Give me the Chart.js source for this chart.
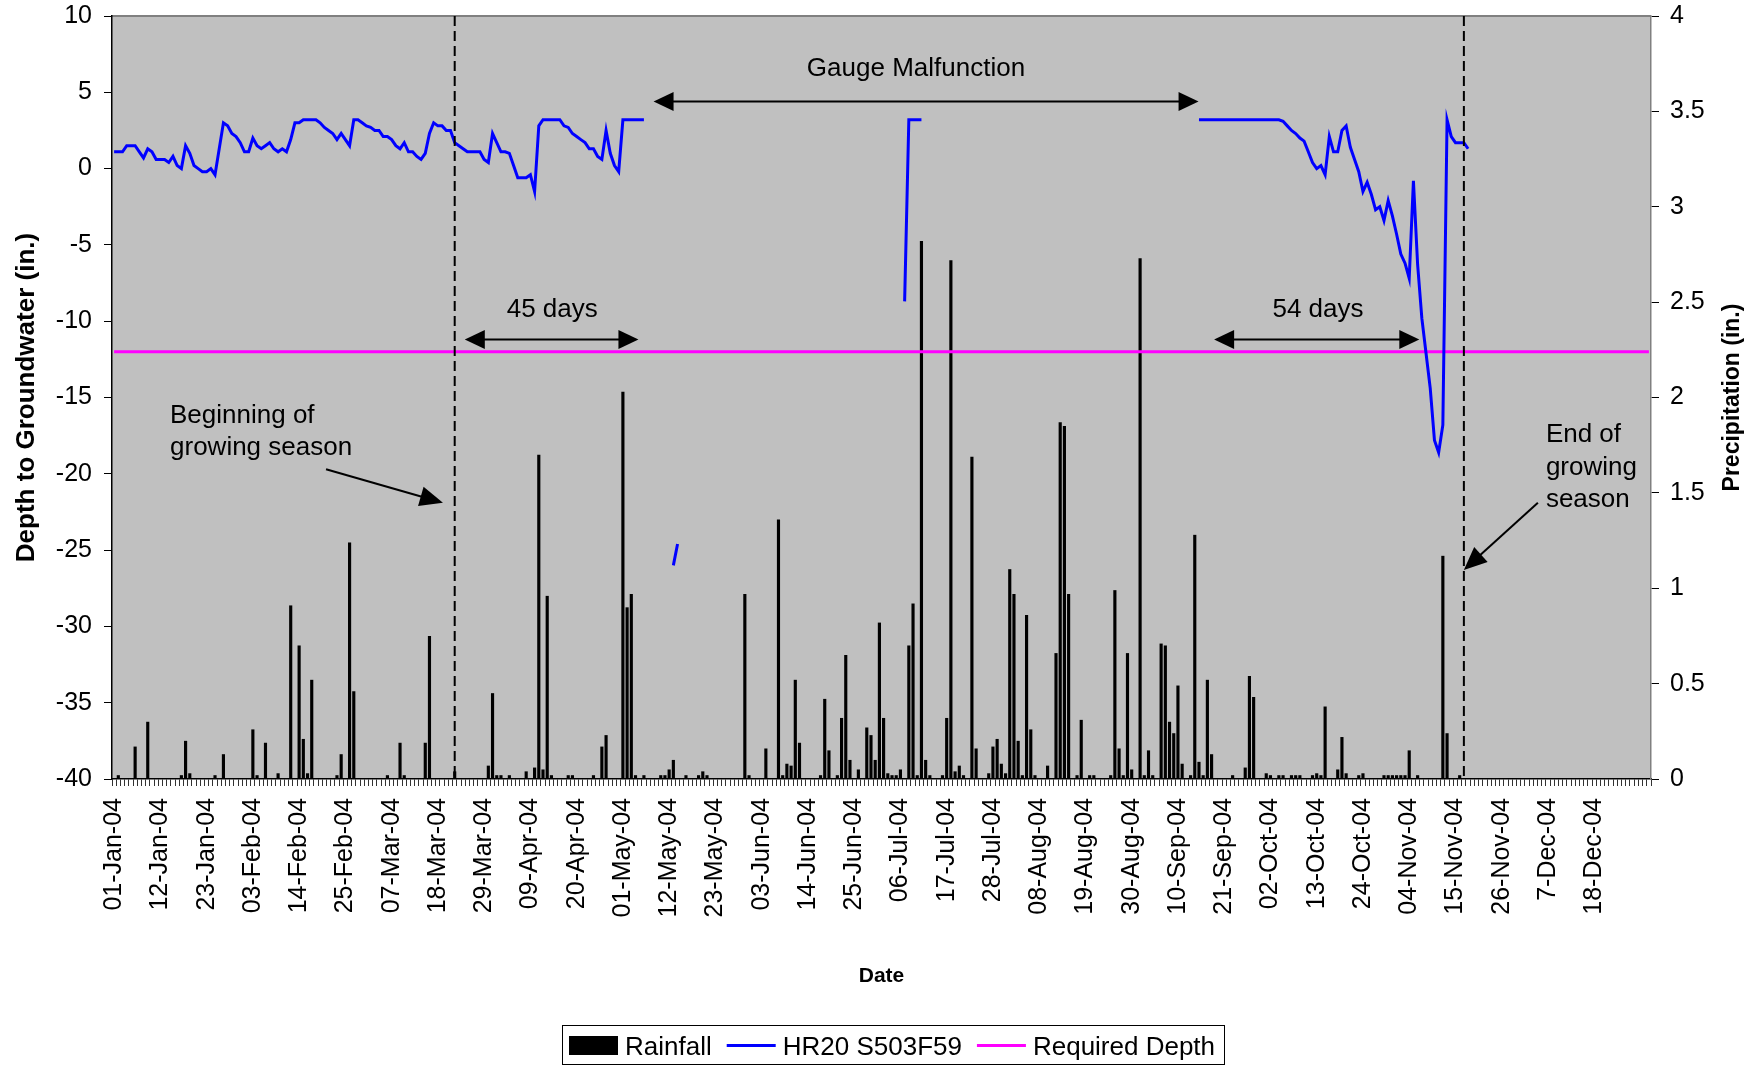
<!DOCTYPE html>
<html>
<head>
<meta charset="utf-8">
<script src="https://cdn.jsdelivr.net/npm/chart.js@4.4.1/dist/chart.umd.min.js"></script>
<style>
  html, body { margin: 0; padding: 0; background: #fff; }
  #wrap { width: 1763px; height: 1065px; }
</style>
</head>
<body>
<div id="wrap"><canvas id="groundwaterChart"></canvas></div>
<script>
// 2004 calendar (leap year)
const monthNames = ["Jan", "Feb", "Mar", "Apr", "May", "Jun", "Jul", "Aug", "Sep", "Oct", "Nov", "Dec"];
const monthDays = [31, 29, 31, 30, 31, 30, 31, 31, 30, 31, 30, 31];

// x axis labels, one every 11 days
const tickLabels = [
  "01-Jan-04", "12-Jan-04", "23-Jan-04", "03-Feb-04", "14-Feb-04", "25-Feb-04", "07-Mar-04",
  "18-Mar-04", "29-Mar-04", "09-Apr-04", "20-Apr-04", "01-May-04", "12-May-04", "23-May-04",
  "03-Jun-04", "14-Jun-04", "25-Jun-04", "06-Jul-04", "17-Jul-04", "28-Jul-04", "08-Aug-04",
  "19-Aug-04", "30-Aug-04", "10-Sep-04", "21-Sep-04", "02-Oct-04", "13-Oct-04", "24-Oct-04",
  "04-Nov-04", "15-Nov-04", "26-Nov-04", "7-Dec-04", "18-Dec-04"
];
const TICK_STEP = 11;

// daily rainfall (in.)
const rainJan = [0, 0.02, 0, 0, 0, 0.17, 0, 0, 0.30, 0, 0, 0, 0, 0, 0, 0, 0.02, 0.20, 0.03, 0,
  0, 0, 0, 0, 0.02, 0, 0.13, 0, 0, 0, 0];
const rainFeb = [0, 0, 0.26, 0.02, 0, 0.19, 0, 0, 0.03, 0, 0, 0.91, 0, 0.70, 0.21, 0.03, 0.52, 0, 0, 0,
  0, 0, 0.02, 0.13, 0, 1.24, 0.46, 0, 0];
const rainMar = [0, 0, 0, 0, 0, 0.02, 0, 0, 0.19, 0.02, 0, 0, 0, 0, 0.19, 0.75, 0, 0, 0, 0,
  0, 0.04, 0, 0, 0, 0, 0, 0, 0, 0.07, 0.45];
const rainApr = [0.02, 0.02, 0, 0.02, 0, 0, 0, 0.04, 0, 0.06, 1.70, 0.05, 0.96, 0.02, 0, 0, 0, 0.02, 0.02, 0,
  0, 0, 0, 0.02, 0, 0.17, 0.23, 0, 0, 0];
const rainMay = [2.03, 0.90, 0.97, 0.02, 0, 0.02, 0, 0, 0, 0.02, 0.02, 0.05, 0.10, 0, 0, 0.02, 0, 0, 0.02, 0.04,
  0.02, 0, 0, 0, 0, 0, 0, 0, 0, 0.97, 0.02];
const rainJun = [0, 0, 0, 0.16, 0, 0, 1.36, 0.02, 0.08, 0.07, 0.52, 0.19, 0, 0, 0, 0, 0.02, 0.42, 0.15, 0,
  0.02, 0.32, 0.65, 0.10, 0, 0.05, 0, 0.27, 0.23, 0.10];
const rainJul = [0.82, 0.32, 0.03, 0.02, 0.02, 0.05, 0, 0.70, 0.92, 0.02, 2.82, 0.10, 0.02, 0, 0, 0.02, 0.32, 2.72, 0.04, 0.07,
  0.02, 0, 1.69, 0.16, 0, 0, 0.03, 0.17, 0.21, 0.08, 0.03];
const rainAug = [1.10, 0.97, 0.20, 0.02, 0.86, 0.26, 0.02, 0, 0, 0.07, 0, 0.66, 1.87, 1.85, 0.97, 0, 0.02, 0.31, 0, 0.02,
  0.02, 0, 0, 0, 0.02, 0.99, 0.16, 0.02, 0.66, 0.05, 0];
const rainSep = [2.73, 0.02, 0.15, 0.02, 0, 0.71, 0.70, 0.30, 0.24, 0.49, 0.08, 0, 0.02, 1.28, 0.09, 0.02, 0.52, 0.13, 0, 0,
  0, 0, 0.02, 0, 0, 0.06, 0.54, 0.43, 0, 0];
const rainOct = [0.03, 0.02, 0, 0.02, 0.02, 0, 0.02, 0.02, 0.02, 0, 0, 0.02, 0.03, 0.02, 0.38, 0, 0, 0.05, 0.22, 0.03,
  0, 0, 0.02, 0.03, 0, 0, 0, 0, 0.02, 0.02, 0.02];
const rainNov = [0.02, 0.02, 0.02, 0.15, 0, 0.02, 0, 0, 0, 0, 0, 1.17, 0.24, 0, 0, 0.02, 0, 0, 0, 0,
  0, 0, 0, 0, 0, 0, 0, 0, 0, 0];
const rainDec = [0, 0, 0, 0, 0, 0, 0, 0, 0, 0, 0, 0, 0, 0, 0, 0, 0, 0, 0, 0,
  0, 0, 0, 0, 0, 0, 0, 0, 0, 0, 0];

// daily depth to groundwater, gauge HR20 S503F59 (in.), null = no reading
const depthJan = [1.1, 1.1, 1.1, 1.5, 1.5, 1.5, 1.1, 0.7, 1.3, 1.1, 0.6, 0.6, 0.6, 0.4, 0.8, 0.2, 0.0, 1.5, 1.0, 0.2,
  0.0, -0.2, -0.2, 0.0, -0.4, 1.3, 3.0, 2.8, 2.3, 2.1, 1.7];
const depthFeb = [1.1, 1.1, 2.0, 1.5, 1.3, 1.5, 1.7, 1.3, 1.1, 1.3, 1.1, 1.9, 3.0, 3.0, 3.2, 3.2, 3.2, 3.2, 3.0, 2.7,
  2.5, 2.3, 1.9, 2.3, 1.9, 1.5, 3.2, 3.2, 3.0];
const depthMar = [2.8, 2.7, 2.5, 2.5, 2.1, 2.1, 1.9, 1.5, 1.3, 1.7, 1.1, 1.1, 0.8, 0.6, 1.0, 2.3, 3.0, 2.8, 2.8, 2.5,
  2.5, 1.7, 1.5, 1.3, 1.1, 1.1, 1.1, 1.1, 0.6, 0.4, 2.3];
const depthApr = [1.7, 1.1, 1.1, 1.0, 0.2, -0.6, -0.6, -0.6, -0.4, -1.5, 2.8, 3.2, 3.2, 3.2, 3.2, 3.2, 2.8, 2.7, 2.3, 2.1,
  1.9, 1.7, 1.3, 1.3, 0.8, 0.6, 2.5, 1.0, 0.2, -0.2];
const depthMay = [3.2, 3.2, 3.2, 3.2, 3.2, 3.2, null, null, null, null, null, null, -26.0, -24.6, null, null, null, null, null, null,
  null, null, null, null, null, null, null, null, null, null, null];
const depthJun = [null, null, null, null, null, null, null, null, null, null, null, null, null, null, null,
  null, null, null, null, null, null, null, null, null, null, null, null, null, null, null];
const depthJul = [null, null, null, null, null, null, -8.7, 3.2, 3.2, 3.2, 3.2, null, null, null, null, null, null, null, null, null,
  null, null, null, null, null, null, null, null, null, null, null];
const depthAug = [null, null, null, null, null, null, null, null, null, null, null, null, null, null, null, null,
  null, null, null, null, null, null, null, null, null, null, null, null, null, null, null];
const depthSep = [null, null, null, null, null, null, null, null, null, null, null, null, null, null,
  3.2, 3.2, 3.2, 3.2, 3.2, 3.2, 3.2, 3.2, 3.2, 3.2, 3.2, 3.2, 3.2, 3.2, 3.2, 3.2];
const depthOct = [3.2, 3.2, 3.2, 3.2, 3.1, 2.8, 2.5, 2.3, 2.0, 1.8, 1.1, 0.4, 0.0, 0.2, -0.4, 2.1, 1.1, 1.1, 2.5, 2.8,
  1.4, 0.6, -0.2, -1.5, -0.9, -1.7, -2.7, -2.5, -3.4, -2.1, -3.1];
const depthNov = [-4.3, -5.6, -6.2, -7.2, -0.8, -6.3, -9.8, -12.1, -14.4, -17.8, -18.6, -16.8, 3.2, 2.1, 1.7, 1.7, 1.7, 1.3,
  null, null, null, null, null, null, null, null, null, null, null, null];
const depthDec = [null, null, null, null, null, null, null, null, null, null, null, null, null, null, null, null,
  null, null, null, null, null, null, null, null, null, null, null, null, null, null, null];

const REQUIRED_DEPTH = -12;

// growing season (day index in the year)
const seasonStart = 81;   // 22-Mar
const seasonEnd = 321;    // 17-Nov

const days = [];
monthNames.forEach((m, i) => {
  for (let d = 1; d <= monthDays[i]; d++) days.push(String(d).padStart(2, "0") + "-" + m + "-04");
});

const rainfall = [].concat(rainJan, rainFeb, rainMar, rainApr, rainMay, rainJun,
  rainJul, rainAug, rainSep, rainOct, rainNov, rainDec);
const depth = [].concat(depthJan, depthFeb, depthMar, depthApr, depthMay, depthJun,
  depthJul, depthAug, depthSep, depthOct, depthNov, depthDec);
const required = days.map(() => REQUIRED_DEPTH);

const FONT = "'Liberation Sans', Arial, Helvetica, sans-serif";
Chart.defaults.font.family = FONT;
Chart.defaults.color = "#000";

function drawArrowHead(ctx, fx, fy, tx, ty, len, half) {
  const a = Math.atan2(ty - fy, tx - fx);
  ctx.beginPath();
  ctx.moveTo(tx, ty);
  ctx.lineTo(tx - len * Math.cos(a) + half * Math.sin(a), ty - len * Math.sin(a) - half * Math.cos(a));
  ctx.lineTo(tx - len * Math.cos(a) - half * Math.sin(a), ty - len * Math.sin(a) + half * Math.cos(a));
  ctx.closePath();
  ctx.fill();
}

function drawArrow(ctx, x1, y1, x2, y2, len, half, both) {
  const a = Math.atan2(y2 - y1, x2 - x1);
  const sx = both ? x1 + (len - 2) * Math.cos(a) : x1;
  const sy = both ? y1 + (len - 2) * Math.sin(a) : y1;
  ctx.beginPath();
  ctx.moveTo(sx, sy);
  ctx.lineTo(x2 - (len - 2) * Math.cos(a), y2 - (len - 2) * Math.sin(a));
  ctx.stroke();
  drawArrowHead(ctx, x1, y1, x2, y2, len, half);
  if (both) drawArrowHead(ctx, x2, y2, x1, y1, len, half);
}

// keep the plot edges where the reference has them
function fixWidth(scale) {
  scale.width = 112;
  scale.paddingTop = 0;
  scale.paddingBottom = 0;
}

const annotations = {
  id: "annotations",
  beforeDraw(chart) {
    const {ctx, chartArea: a} = chart;
    ctx.save();
    ctx.fillStyle = "#C0C0C0";
    ctx.fillRect(a.left, a.top, a.right - a.left, a.bottom - a.top);
    ctx.strokeStyle = "#808080";
    ctx.lineWidth = 2;
    ctx.beginPath();
    ctx.moveTo(a.left, a.top);
    ctx.lineTo(a.right, a.top);
    ctx.stroke();
    ctx.restore();
  },
  afterDatasetsDraw(chart) {
    const {ctx, chartArea: a, scales: {x, y}} = chart;
    const px = d => x.getPixelForValue(d);
    const py = v => y.getPixelForValue(v);
    ctx.save();

    // growing season limits
    ctx.strokeStyle = "#000";
    ctx.lineWidth = 2;
    ctx.setLineDash([10, 5]);
    [seasonStart, seasonEnd].forEach(d => {
      ctx.beginPath();
      ctx.moveTo(px(d), a.top);
      ctx.lineTo(px(d), a.bottom);
      ctx.stroke();
    });
    ctx.setLineDash([]);

    ctx.fillStyle = "#000";
    ctx.lineWidth = 2;
    drawArrow(ctx, px(128.3), py(4.4), px(257.9), py(4.4), 20, 9.5, true);
    drawArrow(ctx, px(83.4), py(-11.2), px(124.7), py(-11.2), 20, 9.5, true);
    drawArrow(ctx, px(261.6), py(-11.2), px(310.4), py(-11.2), 20, 9.5, true);
    drawArrow(ctx, px(50.4), py(-19.7), px(78.2), py(-21.9), 23, 10, false);
    drawArrow(ctx, px(338.6), py(-21.9), px(321.0), py(-26.3), 23, 10, false);

    ctx.font = "26px " + FONT;
    ctx.textBaseline = "alphabetic";
    ctx.textAlign = "center";
    ctx.fillText("Gauge Malfunction", px(190.7), py(6.1));
    ctx.fillText("45 days", px(104.2), py(-9.7));
    ctx.fillText("54 days", px(286.3), py(-9.7));
    ctx.textAlign = "left";
    ctx.fillText("Beginning of", px(13.3), py(-16.7));
    ctx.fillText("growing season", px(13.3), py(-18.75));
    ctx.fillText("End of", px(340.5), py(-17.9));
    ctx.fillText("growing", px(340.5), py(-20.05));
    ctx.fillText("season", px(340.5), py(-22.15));
    ctx.restore();
  },
  afterDraw(chart) {
    const {ctx, chartArea: a} = chart;
    ctx.save();
    // right axis title reads bottom to top
    ctx.translate(chart.width - 30, (a.top + a.bottom) / 2);
    ctx.rotate(-Math.PI / 2);
    ctx.font = "bold 23px " + FONT;
    ctx.textAlign = "center";
    ctx.textBaseline = "middle";
    ctx.fillStyle = "#000";
    ctx.fillText("Precipitation (in.)", 0, 0);
    ctx.restore();

    // legend in a framed box under the axis title
    const ds = chart.data.datasets;
    ctx.save();
    ctx.font = "26px " + FONT;
    const sw = 49, gapText = 7, gapItem = 15, padL = 7, padR = 9;
    const widths = ds.map(d => ctx.measureText(d.label).width);
    const total = padL + padR + ds.length * (sw + gapText) + widths.reduce((s, w) => s + w, 0) + (ds.length - 1) * gapItem;
    const boxLeft = Math.round(893.5 - total / 2);
    const boxTop = 1025, boxH = 39, midY = 1045.5;
    ctx.strokeStyle = "#000";
    ctx.lineWidth = 1;
    ctx.strokeRect(boxLeft + 0.5, boxTop + 0.5, Math.round(total), boxH);
    let cx = boxLeft + padL;
    ds.forEach((d, i) => {
      if (d.type === "line") {
        ctx.strokeStyle = d.borderColor;
        ctx.lineWidth = 3;
        ctx.beginPath();
        ctx.moveTo(cx, midY);
        ctx.lineTo(cx + sw, midY);
        ctx.stroke();
      } else {
        ctx.fillStyle = d.backgroundColor;
        ctx.fillRect(cx, midY - 9.5, sw, 19);
      }
      cx += sw + gapText;
      ctx.fillStyle = "#000";
      ctx.textBaseline = "alphabetic";
      ctx.textAlign = "left";
      ctx.fillText(d.label, cx, 1055);
      cx += widths[i] + gapItem;
    });
    ctx.restore();
  }
};

new Chart(document.getElementById("groundwaterChart"), {
  type: "bar",
  data: {
    labels: days,
    datasets: [
      {
        label: "Rainfall",
        data: rainfall,
        yAxisID: "y1",
        backgroundColor: "#000",
        borderWidth: 0,
        barPercentage: 0.75,
        categoryPercentage: 1,
        order: 3
      },
      {
        type: "line",
        label: "HR20 S503F59",
        data: depth,
        yAxisID: "y",
        borderColor: "#0000FF",
        backgroundColor: "#0000FF",
        borderWidth: 3,
        pointRadius: 0,
        tension: 0,
        spanGaps: false,
        order: 1
      },
      {
        type: "line",
        label: "Required Depth",
        data: required,
        yAxisID: "y",
        borderColor: "#FF00FF",
        backgroundColor: "#FF00FF",
        borderWidth: 3,
        pointRadius: 0,
        order: 2
      }
    ]
  },
  options: {
    responsive: true,
    maintainAspectRatio: false,
    devicePixelRatio: 1,
    animation: false,
    events: [],
    layout: { padding: { top: 16, left: 0, right: 0, bottom: 40 } },
    plugins: {
      tooltip: { enabled: false },
      legend: { display: false }
    },
    scales: {
      x: {
        type: "category",
        offset: true,
        afterFit: scale => { scale.height = 246; },
        grid: { drawOnChartArea: false, offset: true, tickLength: 7, color: "#333", lineWidth: 1 },
        border: { color: "#000", width: 1.5 },
        ticks: {
          autoSkip: false,
          minRotation: 90,
          maxRotation: 90,
          padding: 12,
          font: { size: 25 },
          color: "#000",
          callback: (value, index) => index % TICK_STEP === 0 ? (tickLabels[index / TICK_STEP] || "") : ""
        },
        title: {
          display: true,
          text: "Date",
          font: { size: 21, weight: "bold" },
          padding: { top: 0, bottom: 36 }
        }
      },
      y: {
        position: "left",
        min: -40,
        max: 10,
        afterFit: fixWidth,
        grid: { drawOnChartArea: false, tickLength: 8, color: "#000" },
        border: { color: "#000", width: 1.5 },
        ticks: { stepSize: 5, padding: 12, font: { size: 25 }, color: "#000" },
        title: {
          display: true,
          text: "Depth to Groundwater (in.)",
          font: { size: 26, weight: "bold" },
          padding: { top: 11, bottom: 0 }
        }
      },
      y1: {
        position: "right",
        min: 0,
        max: 4,
        afterFit: fixWidth,
        grid: { drawOnChartArea: false, tickLength: 8, color: "#000" },
        border: { color: "#808080", width: 1.5 },
        ticks: {
          stepSize: 0.5,
          padding: 11,
          font: { size: 25 },
          color: "#000",
          callback: value => String(Number(value))
        }
      }
    }
  },
  plugins: [annotations]
});
</script>
</body>
</html>
